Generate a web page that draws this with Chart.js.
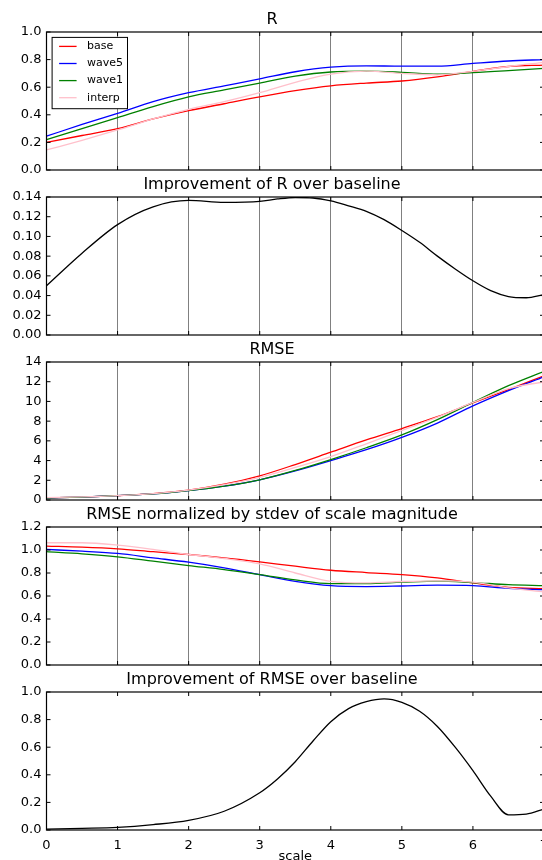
<!DOCTYPE html>
<html>
<head>
<meta charset="utf-8">
<script src="https://cdn.jsdelivr.net/npm/chart.js@4.4.0/dist/chart.umd.min.js"></script>
<style>
    html, body { margin: 0; padding: 0; background: #fff; width: 542px; height: 860px; overflow: hidden; }
    .panel { position: absolute; left: 0; width: 544px; }
</style>
</head>
<body>
<div class="panel" style="top:10px;height:168px"><canvas id="chartR"></canvas></div>
<div class="panel" style="top:175px;height:168px"><canvas id="chartRGain"></canvas></div>
<div class="panel" style="top:340px;height:168px"><canvas id="chartRmse"></canvas></div>
<div class="panel" style="top:505px;height:168px"><canvas id="chartNorm"></canvas></div>
<div class="panel" style="top:670px;height:193px"><canvas id="chartRmseGain"></canvas></div>
<script>
// ── Datos ─────────────────────────────────────────────────────────
const scaleX = [0, 0.5, 1, 1.5, 2, 2.5, 3, 3.5, 4, 4.5, 5, 5.5, 6, 6.5, 7];
const gainX = [0, 0.5, 1, 1.5, 2, 2.5, 3, 3.25, 3.5, 3.75, 4, 4.25, 4.5, 4.75, 5, 5.25, 5.5, 5.75, 6, 6.25, 6.5, 6.75, 7];

const seriesNames = ['base', 'wave5', 'wave1', 'interp'];
const seriesColors = ['#ff0000', '#0000ff', '#008000', '#ffc0cb'];

// R
const rBase   = [0.20, 0.25, 0.30, 0.37, 0.43, 0.48, 0.53, 0.575, 0.61, 0.63, 0.645, 0.675, 0.715, 0.75, 0.76];
const rWave5  = [0.245, 0.33, 0.41, 0.495, 0.56, 0.61, 0.66, 0.712, 0.745, 0.755, 0.752, 0.752, 0.772, 0.79, 0.80];
const rWave1  = [0.22, 0.30, 0.38, 0.46, 0.53, 0.58, 0.63, 0.68, 0.71, 0.716, 0.708, 0.695, 0.705, 0.72, 0.737];
const rInterp = [0.145, 0.215, 0.29, 0.37, 0.44, 0.495, 0.56, 0.635, 0.695, 0.716, 0.70, 0.69, 0.715, 0.75, 0.78];

// Improvement of R over baseline
const rGain = [0.050, 0.083, 0.112, 0.130, 0.1365, 0.1345, 0.1355, 0.138, 0.1395, 0.139, 0.136, 0.131,
               0.1255, 0.117, 0.106, 0.094, 0.080, 0.067, 0.055, 0.045, 0.039, 0.0378, 0.041];

// RMSE
const rmseBase   = [0.2, 0.3, 0.45, 0.65, 1.0, 1.6, 2.45, 3.6, 4.85, 6.1, 7.25, 8.45, 9.85, 11.2, 12.6];
const rmseWave5  = [0.2, 0.3, 0.45, 0.62, 0.95, 1.4, 2.05, 2.95, 4.0, 5.1, 6.35, 7.8, 9.55, 11.1, 12.5];
const rmseWave1  = [0.2, 0.3, 0.45, 0.62, 0.95, 1.4, 2.05, 3.0, 4.1, 5.3, 6.6, 8.15, 9.9, 11.6, 13.05];
const rmseInterp = [0.25, 0.32, 0.45, 0.65, 1.0, 1.55, 2.3, 3.3, 4.4, 5.7, 7.05, 8.4, 9.9, 11.3, 12.0];

// RMSE normalized by stdev of scale magnitude
const normBase   = [1.034, 1.025, 1.01, 0.985, 0.961, 0.932, 0.897, 0.859, 0.824, 0.804, 0.786, 0.757, 0.714, 0.675, 0.664];
const normWave5  = [1.005, 0.99, 0.97, 0.932, 0.894, 0.845, 0.786, 0.728, 0.69, 0.682, 0.687, 0.694, 0.69, 0.666, 0.655];
const normWave1  = [0.985, 0.967, 0.941, 0.903, 0.865, 0.83, 0.786, 0.74, 0.708, 0.708, 0.72, 0.73, 0.717, 0.699, 0.69];
const normInterp = [1.063, 1.063, 1.043, 1.005, 0.961, 0.926, 0.88, 0.80, 0.728, 0.714, 0.726, 0.732, 0.72, 0.67, 0.635];

// Improvement of RMSE over baseline
const rmseGain = [0.007, 0.012, 0.019, 0.039, 0.07, 0.136, 0.27, 0.37, 0.495, 0.645, 0.785, 0.88,
                  0.93, 0.95, 0.925, 0.86, 0.75, 0.60, 0.43, 0.245, 0.11, 0.115, 0.152];

// ── Opciones compartidas ─────────────────────────────────────────
Chart.defaults.font.family = "'DejaVu Sans', sans-serif";
Chart.defaults.color = '#000';

const toPoints = (xs, ys) => xs.map((x, i) => ({ x: x, y: ys[i] }));

function lineSet(label, xs, ys, color, order) {
    return {
        label: label,
        data: toPoints(xs, ys),
        borderColor: color,
        backgroundColor: color,
        borderWidth: 1.3,
        pointRadius: 0,
        cubicInterpolationMode: 'monotone',
        fill: false,
        order: order
    };
}

// Marco negro con marcas hacia dentro (estilo matplotlib)
const framePlugin = {
    id: 'frame',
    afterDraw(chart) {
        const { ctx, chartArea: a, scales } = chart;
        ctx.save();
        ctx.strokeStyle = '#000';
        ctx.lineWidth = 1.2;
        ctx.strokeRect(a.left, a.top, a.right - a.left, a.bottom - a.top);
        ctx.lineWidth = 1;
        ctx.beginPath();
        scales.y.ticks.forEach(t => {
            const py = scales.y.getPixelForValue(t.value);
            ctx.moveTo(a.left, py); ctx.lineTo(a.left + 4, py);
            ctx.moveTo(a.right, py); ctx.lineTo(a.right - 4, py);
        });
        scales.x.ticks.forEach(t => {
            const px = scales.x.getPixelForValue(t.value);
            ctx.moveTo(px, a.top); ctx.lineTo(px, a.top + 4);
            ctx.moveTo(px, a.bottom); ctx.lineTo(px, a.bottom - 4);
        });
        ctx.stroke();
        ctx.restore();
    }
};

// Leyenda con recuadro dentro del área del gráfico
const boxLegendPlugin = {
    id: 'boxLegend',
    afterDraw(chart, args, opts) {
        if (!opts.show) return;
        const { ctx, chartArea: a } = chart;
        const x0 = a.left + 5.6, y0 = a.top + 5.4, w = 75.4, h = 71.3;
        ctx.save();
        ctx.fillStyle = '#fff';
        ctx.fillRect(x0, y0, w, h);
        ctx.strokeStyle = '#000';
        ctx.lineWidth = 1;
        ctx.strokeRect(x0, y0, w, h);
        ctx.font = "11px 'DejaVu Sans', sans-serif";
        ctx.textBaseline = 'middle';
        chart.data.datasets.forEach((ds, i) => {
            const yy = y0 + 9 + i * 17.1;
            ctx.strokeStyle = ds.borderColor;
            ctx.lineWidth = 1.3;
            ctx.beginPath();
            ctx.moveTo(x0 + 7, yy); ctx.lineTo(x0 + 24.5, yy);
            ctx.stroke();
            ctx.fillStyle = '#000';
            ctx.fillText(ds.label, x0 + 35, yy);
        });
        ctx.restore();
    }
};

function fixedWidth(scale) {
    scale.width = 46.5;
    scale.paddingTop = 0;
    scale.paddingBottom = 0;
}

function renderPanel(canvasId, title, datasets, yMax, yStep, decimals, opts) {
    const bottomAxis = opts.bottomAxis;
    return new Chart(document.getElementById(canvasId).getContext('2d'), {
        type: 'line',
        data: { datasets: datasets },
        plugins: [framePlugin, boxLegendPlugin],
        options: {
            responsive: true,
            maintainAspectRatio: false,
            animation: false,
            devicePixelRatio: 1,
            layout: { padding: 0 },
            scales: {
                x: {
                    type: 'linear',
                    min: 0,
                    max: 7,
                    afterFit: scale => {
                        scale.paddingLeft = 0;
                        scale.paddingRight = 0;
                        scale.height = bottomAxis ? 33 : 8;
                    },
                    ticks: {
                        display: bottomAxis,
                        stepSize: 1,
                        padding: 9,
                        font: { size: 13, lineHeight: 1 }
                    },
                    grid: {
                        display: !bottomAxis,
                        color: '#808080',
                        lineWidth: 1,
                        drawTicks: false
                    },
                    border: { display: false },
                    title: {
                        display: bottomAxis,
                        text: 'scale',
                        padding: 0,
                        font: { size: 13, lineHeight: 1 }
                    }
                },
                y: {
                    min: 0,
                    max: yMax,
                    afterFit: fixedWidth,
                    ticks: {
                        stepSize: yStep,
                        padding: 5,
                        font: { size: 13 },
                        callback: v => Number(v).toFixed(decimals)
                    },
                    grid: { display: false, drawTicks: false },
                    border: { display: false }
                }
            },
            plugins: {
                legend: { display: false },
                tooltip: { enabled: false },
                boxLegend: { show: !!opts.legend },
                title: {
                    display: true,
                    text: title,
                    font: { size: 16, weight: 'normal', lineHeight: 1.2 },
                    padding: { top: 0, bottom: 2.8 },
                    color: '#000'
                }
            }
        }
    });
}

function fourSeries(xs, a, b, c, d) {
    return [
        lineSet(seriesNames[0], xs, a, seriesColors[0], 4),
        lineSet(seriesNames[1], xs, b, seriesColors[1], 3),
        lineSet(seriesNames[2], xs, c, seriesColors[2], 2),
        lineSet(seriesNames[3], xs, d, seriesColors[3], 1)
    ];
}

renderPanel('chartR', 'R', fourSeries(scaleX, rBase, rWave5, rWave1, rInterp),
    1.0, 0.2, 1, { legend: true, bottomAxis: false });

renderPanel('chartRGain', 'Improvement of R over baseline',
    [lineSet('gain', gainX, rGain, '#000', 1)],
    0.14, 0.02, 2, { bottomAxis: false });

renderPanel('chartRmse', 'RMSE', fourSeries(scaleX, rmseBase, rmseWave5, rmseWave1, rmseInterp),
    14, 2, 0, { bottomAxis: false });

renderPanel('chartNorm', 'RMSE normalized by stdev of scale magnitude',
    fourSeries(scaleX, normBase, normWave5, normWave1, normInterp),
    1.2, 0.2, 1, { bottomAxis: false });

renderPanel('chartRmseGain', 'Improvement of RMSE over baseline',
    [lineSet('gain', gainX, rmseGain, '#000', 1)],
    1.0, 0.2, 1, { bottomAxis: true });
</script>
</body>
</html>
